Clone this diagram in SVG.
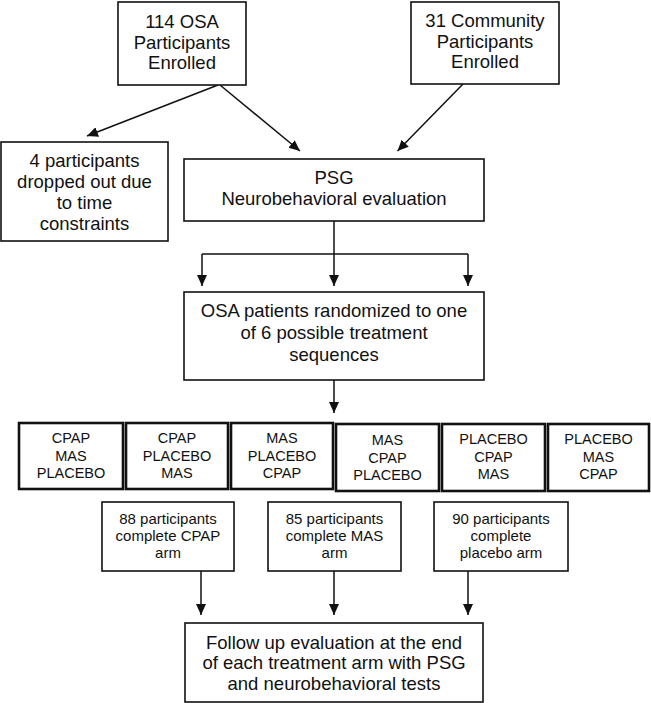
<svg xmlns="http://www.w3.org/2000/svg" width="651" height="703" viewBox="0 0 651 703">
<style>
  .box { fill: #fff; stroke: #111; stroke-width: 1.6; }
  .tbox { fill: #fff; stroke: #111; stroke-width: 2.6; }
  .t { font-family: "Liberation Sans", Arial, sans-serif; font-size: 18.5px; fill: #111; text-anchor: middle; }
  .ts { font-family: "Liberation Sans", Arial, sans-serif; font-size: 14.5px; fill: #111; text-anchor: middle; }
  .tm { font-family: "Liberation Sans", Arial, sans-serif; font-size: 15px; fill: #111; text-anchor: middle; }
  .c { stroke: #111; stroke-width: 1.5; fill: none; }
  .a { marker-end: url(#arr); }
</style>
<defs>
  <marker id="arr" markerUnits="userSpaceOnUse" markerWidth="12" markerHeight="11" refX="11" refY="5" orient="auto">
    <path d="M0,0 L11,5 L0,10 Z" fill="#111"/>
  </marker>
</defs>
<rect width="651" height="703" fill="#fff"/>

<g id="connectors">
  <line class="c a" x1="218" y1="85" x2="87" y2="136"/>
  <line class="c a" x1="220" y1="85" x2="300" y2="151"/>
  <line class="c a" x1="463" y1="84" x2="397.5" y2="151"/>
  <line class="c" x1="334" y1="221" x2="334" y2="254"/>
  <line class="c" x1="202" y1="254" x2="468" y2="254"/>
  <line class="c a" x1="202" y1="254" x2="202" y2="286"/>
  <line class="c a" x1="334" y1="254" x2="334" y2="286"/>
  <line class="c a" x1="468" y1="254" x2="468" y2="286"/>
  <line class="c a" x1="334" y1="380" x2="334" y2="413"/>
  <line class="c a" x1="201" y1="571" x2="201" y2="615"/>
  <line class="c a" x1="334" y1="571" x2="334" y2="615"/>
  <line class="c a" x1="468" y1="571" x2="468" y2="615"/>
</g>

<g id="osa">
  <rect class="box" x="118" y="2" width="128" height="83"/>
  <text class="t" x="182" y="28">114 OSA</text>
  <text class="t" x="182" y="48.5">Participants</text>
  <text class="t" x="182" y="69">Enrolled</text>
</g>
<g id="community">
  <rect class="box" x="411" y="2" width="148" height="82"/>
  <text class="t" x="485" y="27">31 Community</text>
  <text class="t" x="485" y="47.5">Participants</text>
  <text class="t" x="485" y="68">Enrolled</text>
</g>
<g id="dropout">
  <rect class="box" x="1" y="142" width="167" height="99"/>
  <text class="t" x="84.5" y="166.5">4 participants</text>
  <text class="t" x="84.5" y="187.5">dropped out due</text>
  <text class="t" x="84.5" y="208.5">to time</text>
  <text class="t" x="84.5" y="229.5">constraints</text>
</g>
<g id="psg">
  <rect class="box" x="184" y="159" width="300" height="62"/>
  <text class="t" x="334" y="183.5">PSG</text>
  <text class="t" x="334" y="204.5">Neurobehavioral evaluation</text>
</g>
<g id="randomized">
  <rect class="box" x="184" y="292" width="300" height="88"/>
  <text class="t" x="334" y="316.5">OSA patients randomized to one</text>
  <text class="t" x="334" y="338.5">of 6 possible treatment</text>
  <text class="t" x="334" y="360.5">sequences</text>
</g>

<g id="seq1">
  <rect class="tbox" x="19" y="423" width="104" height="66"/>
  <text class="ts" x="71" y="443">CPAP</text>
  <text class="ts" x="71" y="461">MAS</text>
  <text class="ts" x="71" y="478">PLACEBO</text>
</g>
<g id="seq2">
  <rect class="tbox" x="126" y="423" width="102" height="66"/>
  <text class="ts" x="177" y="443">CPAP</text>
  <text class="ts" x="177" y="461">PLACEBO</text>
  <text class="ts" x="177" y="478">MAS</text>
</g>
<g id="seq3">
  <rect class="tbox" x="231" y="423" width="102" height="66"/>
  <text class="ts" x="282" y="443">MAS</text>
  <text class="ts" x="282" y="461">PLACEBO</text>
  <text class="ts" x="282" y="478">CPAP</text>
</g>
<g id="seq4">
  <rect class="tbox" x="336" y="424" width="103" height="67"/>
  <text class="ts" x="387.5" y="445">MAS</text>
  <text class="ts" x="387.5" y="463">CPAP</text>
  <text class="ts" x="387.5" y="480">PLACEBO</text>
</g>
<g id="seq5">
  <rect class="tbox" x="442" y="424" width="103" height="67"/>
  <text class="ts" x="493.5" y="444">PLACEBO</text>
  <text class="ts" x="493.5" y="462">CPAP</text>
  <text class="ts" x="493.5" y="479">MAS</text>
</g>
<g id="seq6">
  <rect class="tbox" x="548" y="424" width="101" height="67"/>
  <text class="ts" x="598.5" y="444">PLACEBO</text>
  <text class="ts" x="598.5" y="462">MAS</text>
  <text class="ts" x="598.5" y="479">CPAP</text>
</g>

<g id="armCPAP">
  <rect class="box" x="102" y="502" width="132" height="69"/>
  <text class="tm" x="168" y="524">88 participants</text>
  <text class="tm" x="168" y="541">complete CPAP</text>
  <text class="tm" x="168" y="558">arm</text>
</g>
<g id="armMAS">
  <rect class="box" x="268" y="502" width="133" height="69"/>
  <text class="tm" x="334.5" y="524">85 participants</text>
  <text class="tm" x="334.5" y="541">complete MAS</text>
  <text class="tm" x="334.5" y="558">arm</text>
</g>
<g id="armPlacebo">
  <rect class="box" x="434" y="502" width="134" height="69"/>
  <text class="tm" x="501" y="524">90 participants</text>
  <text class="tm" x="501" y="541">complete</text>
  <text class="tm" x="501" y="558">placebo arm</text>
</g>

<g id="followup">
  <rect class="box" x="185" y="623" width="298" height="79"/>
  <text class="t" x="334" y="648.5">Follow up evaluation at the end</text>
  <text class="t" x="334" y="669">of each treatment arm with PSG</text>
  <text class="t" x="334" y="689.5">and neurobehavioral tests</text>
</g>
</svg>
